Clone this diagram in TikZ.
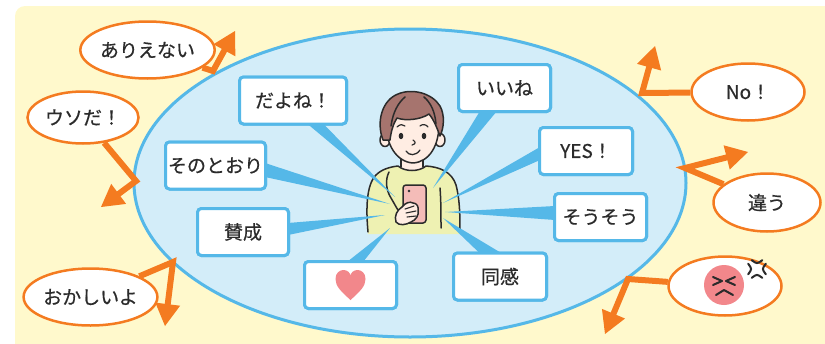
\documentclass[tikz,border=0pt]{standalone}
\usepackage{fontspec}
\newfontfamily\jp[FakeBold=0.6]{Noto Sans CJK JP}
\usetikzlibrary{shapes.geometric,calc}
\definecolor{bgyellow}{HTML}{FFF9CC}
\definecolor{poolfill}{HTML}{D3EDF9}
\definecolor{skyline}{HTML}{55B8E8}
\definecolor{shoutorange}{HTML}{F47B20}
\definecolor{ink}{HTML}{2B2B2B}
\definecolor{blush}{HTML}{F2878B}
\definecolor{hair}{HTML}{A6746E}
\definecolor{skin}{HTML}{FFEDE3}
\definecolor{sweater}{HTML}{EEF1B2}
\definecolor{phone}{HTML}{F4BCB8}
\newcommand\wedgeto[3]{\fill[skyline] (#1) -- (#3) -- (#2) -- cycle;}
% bent orange arrow: #1 bubble, #2 bend point, #3 tip
\newcommand\shoutarrow[3]{%
  \coordinate (#3-base) at ($(#3)!22pt!(#2)$);
  \draw[shoutline] (#1) -- (#2) -- ($(#3)!16pt!(#2)$);
  \fill[shoutorange] (#3) -- ($(#3-base)!12.5pt!90:(#3)$)
    -- ($(#3-base)!12.5pt!-90:(#3)$) -- cycle;}
\begin{document}
\begin{tikzpicture}[x=1pt,y=-1pt,
  label font/.style={font=\jp\fontsize{19}{22}\selectfont, text=ink},
  saybox/.style={label font, draw=skyline, line width=3pt, fill=white,
    rounded corners=4pt, inner sep=0pt, minimum height=47pt},
  bubble/.style={label font, ellipse, draw=shoutorange, line width=2.5pt,
    fill=white, inner sep=0pt},
  shoutline/.style={draw=shoutorange, line width=6pt, line join=miter},
  outline/.style={draw=ink, line width=1.5pt, line join=round, line cap=round},
]
\useasboundingbox (0,0) rectangle (825,343);
\clip (0,0) rectangle (825,343);
% backdrop
\fill[bgyellow, rounded corners=10pt] (15,6) rectangle (860,380);
% the crowd around the speaker
\draw[skyline, fill=poolfill, line width=3pt] (410,183) ellipse [x radius=276, y radius=154];

% ---------- speaker ----------
% neck
\fill[skin] (401,150) rectangle (423,170);
% sweater
\path[fill=sweater] (368,234) .. controls (366,210) and (366,185) .. (376,175)
  .. controls (382,169) and (390,167) .. (398,166)
  .. controls (405,172) and (419,172) .. (426,166)
  .. controls (440,167) and (452,172) .. (456,185)
  .. controls (460,200) and (460,218) .. (460,234) -- cycle;
\draw[outline] (368,232) .. controls (366,210) and (366,185) .. (376,175)
  .. controls (382,169) and (390,167) .. (398,166)
  .. controls (405,172) and (419,172) .. (426,166)
  .. controls (440,167) and (452,172) .. (456,185)
  .. controls (460,200) and (460,218) .. (460,232);
\draw[outline] (401,152) -- (401,167) (423,152) -- (423,167);
% arm fold and sleeve seam
\draw[outline] (389,172) .. controls (385,180) and (386,190) .. (391,198)
  .. controls (394,203) and (396,207) .. (398,210);
\draw[outline] (440,188) .. controls (441,200) and (441,215) .. (441,228);
% phone
\draw[outline, fill=phone, rounded corners=3pt] (403,185) rectangle (426,223);
\fill[ink] (409,191) circle (1.4);
% hand
\draw[outline, fill=skin] (396,222) .. controls (394,216) and (397,210) .. (402,207)
  .. controls (405,203) and (410,201) .. (413,203)
  .. controls (417,203) and (419,207) .. (418,211)
  .. controls (419,215) and (416,220) .. (411,222)
  .. controls (406,225) and (399,226) .. (396,222) -- cycle;
\draw[draw=ink, line width=1.1pt, line cap=round] (405,209) -- (414,206) (406,213) -- (416,211) (407,217) -- (416,216);
% ears
\draw[outline, fill=skin] (385,140) ellipse [x radius=5, y radius=6.5];
\draw[outline, fill=skin] (440,140) ellipse [x radius=5, y radius=6.5];
% face
\draw[outline, fill=skin] (386,120) .. controls (385,145) and (397,162) .. (413,163)
  .. controls (429,162) and (440,146) .. (439,120)
  .. controls (432,105) and (392,105) .. (386,120) -- cycle;
% hair
\draw[outline, fill=hair] (383,140) .. controls (376,122) and (382,100) .. (398,94)
  .. controls (412,88) and (432,93) .. (440,106)
  .. controls (445,115) and (444,128) .. (440,136)
  .. controls (437,128) and (434,120) .. (429,114)
  .. controls (420,120) and (405,121) .. (397,118)
  .. controls (393,124) and (391,132) .. (390,140) -- cycle;
\draw[outline] (405,97) .. controls (398,103) and (393,112) .. (391,126);
\draw[outline] (424,97) .. controls (431,103) and (435,112) .. (436,124);
% features
\fill[ink] (401,136) ellipse [x radius=2.3, y radius=3.2];
\fill[ink] (424,136) ellipse [x radius=2.3, y radius=3.2];
\draw[outline, line width=1.2pt] (397,127) .. controls (400,124) and (403,124) .. (405,126);
\draw[outline, line width=1.2pt] (420,126) .. controls (422,124) and (426,124) .. (428,127);
\draw[outline, line width=1.2pt] (413,140) .. controls (416,142) and (416,144) .. (412,145);
\draw[outline, line width=1.3pt] (406,151) .. controls (409,156) and (416,156) .. (420,150);

% ---------- speech boxes ----------
\coordinate (t1) at (395,197);
\coordinate (t2) at (390,204);
\coordinate (t3) at (385,215);
\coordinate (t4) at (390,228);
\coordinate (t5) at (433,188);
\coordinate (t6) at (443,203);
\coordinate (t7) at (445,212);
\coordinate (t8) at (443,218);

\path
  node[saybox, minimum width=107pt] (b1) at (293,100.5) {だよね！}
  node[saybox, minimum width=100pt] (b2) at (215.5,165.5) {そのとおり}
  node[saybox, minimum width=91pt]  (b3) at (243,232) {賛成}
  node[saybox, minimum width=92pt]  (b4) at (350.5,285) {}
  node[saybox, minimum width=92pt]  (b5) at (504.5,88) {いいね}
  node[saybox, minimum width=93pt]  (b6) at (586,151) {YES！}
  node[saybox, minimum width=92pt]  (b7) at (600.5,217) {そうそう}
  node[saybox, minimum width=93pt]  (b8) at (500,276.5) {同感};

% pointers from each box to the speaker
\wedgeto{$(b1.south)+(14,-2)$}{$(b1.south)+(30,-2)$}{t1}
\wedgeto{$(b2.east)+(-2,-2.5)$}{$(b2.east)+(-2,11.5)$}{t2}
\wedgeto{$(b3.east)+(-2,-9)$}{$(b3.east)+(-2,3)$}{t3}
\wedgeto{$(b4.north)+(-3.5,2)$}{$(b4.north)+(12.5,2)$}{t4}
\wedgeto{$(b5.south)+(-24.5,-2)$}{$(b5.south)+(-7.5,-2)$}{t5}
\wedgeto{$(b6.west)+(2,-4)$}{$(b6.west)+(2,9)$}{t6}
\wedgeto{$(b7.west)+(2,-11)$}{$(b7.west)+(2,3)$}{t7}
\wedgeto{$(b8.north)+(-20,2)$}{$(b8.north)+(2,2)$}{t8}

% redraw boxes over the pointer bases
\path
  node[saybox, minimum width=107pt] at (b1) {だよね！}
  node[saybox, minimum width=100pt] at (b2) {そのとおり}
  node[saybox, minimum width=91pt]  at (b3) {賛成}
  node[saybox, minimum width=92pt]  at (b4) {}
  node[saybox, minimum width=92pt]  at (b5) {いいね}
  node[saybox, minimum width=93pt]  at (b6) {YES！}
  node[saybox, minimum width=92pt]  at (b7) {そうそう}
  node[saybox, minimum width=93pt]  at (b8) {同感};
% heart
\fill[blush, shift={(b4.center)}] (0,15) .. controls (-10,6) and (-15,1) .. (-15,-6)
  .. controls (-15,-12) and (-11,-15) .. (-7,-15)
  .. controls (-3,-15) and (0,-12) .. (0,-9)
  .. controls (0,-12) and (3,-15) .. (7,-15)
  .. controls (11,-15) and (15,-12) .. (15,-6)
  .. controls (15,1) and (10,6) .. (0,15) -- cycle;

% ---------- objections ----------
\node[bubble, minimum width=112pt, minimum height=57pt] (o1) at (147.5,50) {ありえない};
\node[bubble, minimum width=111pt, minimum height=52pt] (o2) at (83,117.5) {ウソだ！};
\node[bubble, minimum width=112pt, minimum height=57pt] (o3) at (90.5,297) {おかしいよ};
\node[bubble, minimum width=113pt, minimum height=57pt] (o4) at (748,92) {No！};
\node[bubble, minimum width=107pt, minimum height=58pt] (o5) at (767,202.5) {違う};
\node[bubble, minimum width=113pt, minimum height=59pt] (o6) at (725,286) {};

\coordinate (k1) at (213,71);  \coordinate (a1) at (235,31);
\coordinate (k2) at (136,181); \coordinate (a2) at (101,207);
\coordinate (k3) at (173,262); \coordinate (a3) at (165,326);
\coordinate (k4) at (642,93);  \coordinate (a4) at (655,46);
\coordinate (k5) at (685,168); \coordinate (a5) at (748,152);
\coordinate (k6) at (628,279); \coordinate (a6) at (605,334);

\shoutarrow{o1}{k1}{a1}
\shoutarrow{o2}{k2}{a2}
\shoutarrow{o3}{k3}{a3}
\shoutarrow{o4}{k4}{a4}
\shoutarrow{o5}{k5}{a5}
\shoutarrow{o6}{k6}{a6}

% angry face
\begin{scope}[shift={(o6.center)}]
  \fill[blush] (-1,-1) circle (20);
  \draw[outline, line width=2pt] (-12,-9) -- (-3,-5);
  \draw[outline, line width=2pt] (-12,-1) -- (-3,-5);
  \draw[outline, line width=2pt] (10,-9) -- (1,-5);
  \draw[outline, line width=2pt] (10,-1) -- (1,-5);
  \draw[outline, line width=2pt] (-9,9) -- (-1,4) -- (8,9);
  % anger mark
  \begin{scope}[shift={(32,-17)}]
    \foreach \a in {45,135,225,315}
      \draw[outline, line width=2pt, rotate=\a] (2.5,10) .. controls (3.5,3.5) .. (10,2.5);
  \end{scope}
\end{scope}
\end{tikzpicture}
\end{document}
